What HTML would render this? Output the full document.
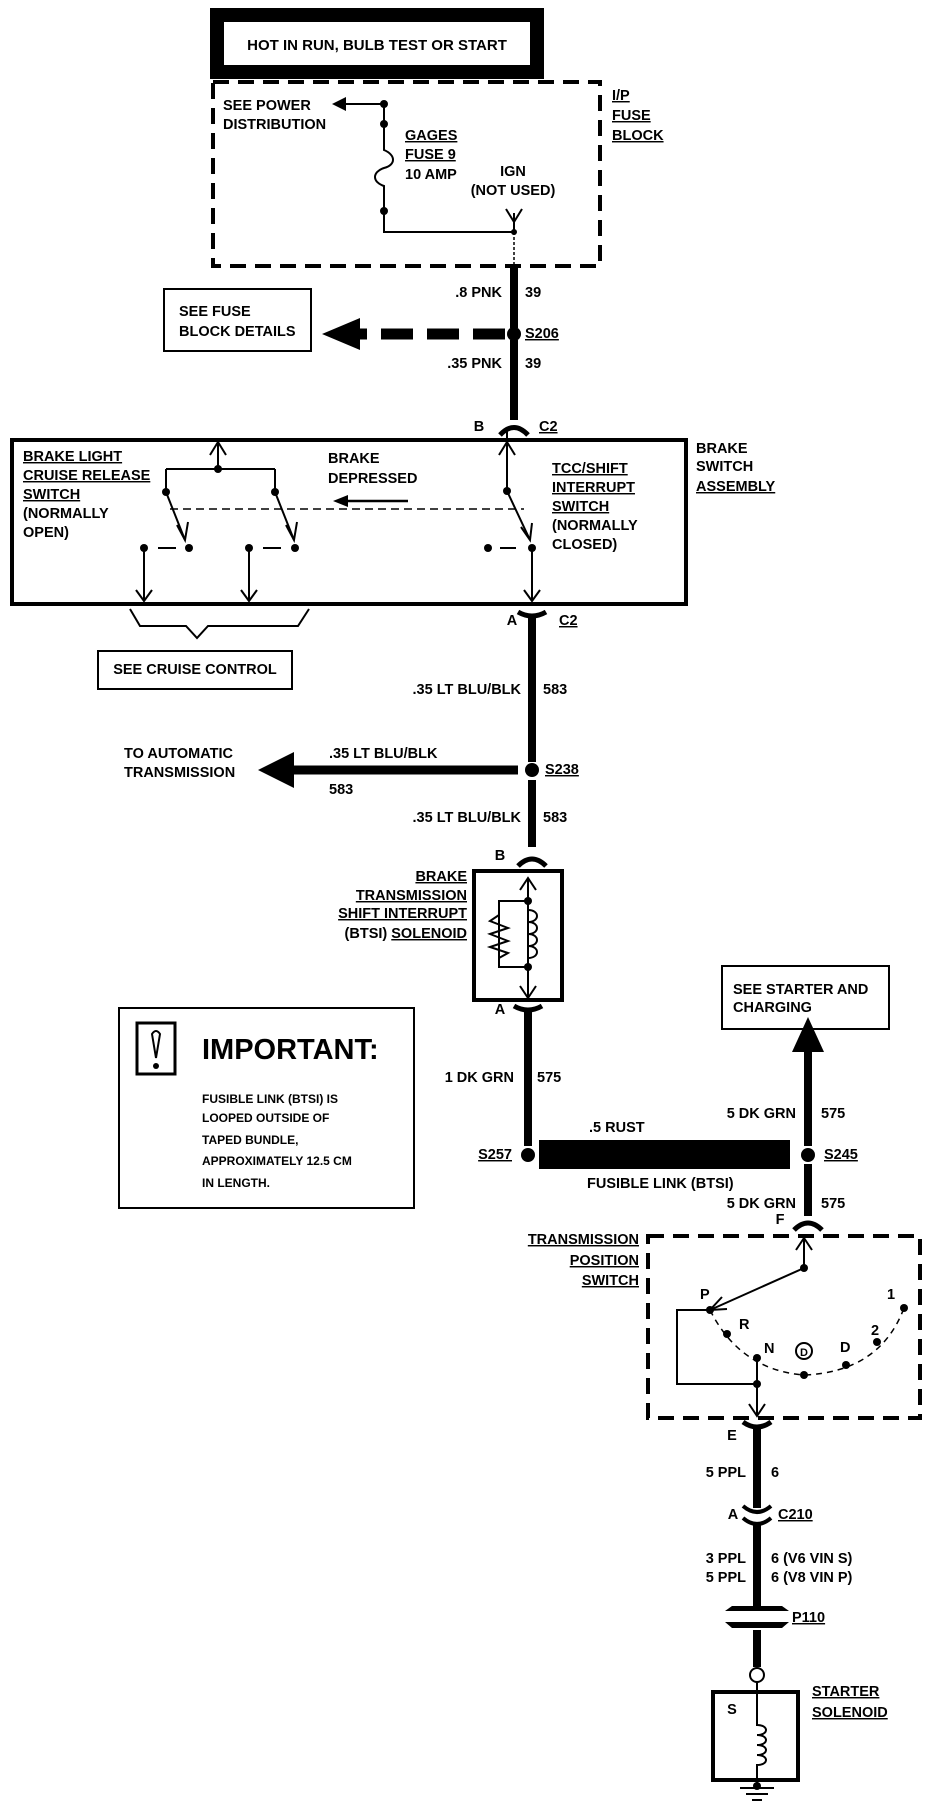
<!DOCTYPE html>
<html><head><meta charset="utf-8"><style>
html,body{margin:0;padding:0;background:#fff;}
svg{display:block;}
text{font-family:"Liberation Sans Narrow","Liberation Sans",sans-serif;font-weight:bold;font-size:14.5px;fill:#000;}
.u{text-decoration:underline;}
</style></head><body>
<svg width="928" height="1802" viewBox="0 0 928 1802" xmlns="http://www.w3.org/2000/svg">
<g fill="none" stroke="#000">
<rect x="217" y="15" width="320" height="57" stroke-width="14"/>
<rect x="213" y="82" width="387" height="184" stroke-width="4" stroke-dasharray="16,9"/>
<path d="M384 104 V124 M384 211 V232 H514" stroke-width="2"/>
<path d="M384 124 V150 C396 155 396 165 384 168 C372 172 372 182 384 186 V211" stroke-width="2"/>
<path d="M384 104 H342" stroke-width="2"/>
<path d="M514 232 V213 M514 222 L506 209 M514 222 L522 209" stroke-width="2"/>
<path d="M514 232 V266" stroke-width="1.5" stroke-dasharray="3,2"/>
<path d="M514 266 V328 M514 340 V420" stroke-width="8"/>
<path d="M500 435 Q514 420 528 435" stroke-width="5"/>
<path d="M505 334 H360" stroke-width="11" stroke-dasharray="32,14"/>
<rect x="164" y="289" width="147" height="62" stroke-width="2"/>
<rect x="12" y="440" width="674" height="164" stroke-width="4"/>
<path d="M218 442 V469 M166 469 H275 M166 469 V492 M275 469 V492" stroke-width="2"/>
<path d="M210 455 L218 442 L226 455 M218 442" stroke-width="2"/>
<path d="M166 492 L185 540 M275 492 L294 540" stroke-width="2"/>
<path d="M177 525 L185 540 L188 522 M286 525 L294 540 L297 522" stroke-width="2"/>
<path d="M170 509 H524" stroke-width="1.5" stroke-dasharray="8,5"/>
<path d="M158 548 H176 M263 548 H281" stroke-width="2"/>
<path d="M144 548 V601 M249 548 V601" stroke-width="2"/>
<path d="M136 590 L144 601 L152 590 M241 590 L249 601 L257 590" stroke-width="2"/>
<path d="M507 430 V491 M507 491 L530 540 M532 548 V601" stroke-width="2"/>
<path d="M499 455 L507 442 L515 455" stroke-width="2"/>
<path d="M521 527 L530 540 L532 523" stroke-width="2"/>
<path d="M500 548 H516" stroke-width="2"/>
<path d="M524 590 L532 601 L540 590" stroke-width="2"/>
<path d="M408 501 H345" stroke-width="2.5"/>
<path d="M130 609 L140 626 H186 L197 638 L208 626 H298 L309 609" stroke-width="2"/>
<rect x="98" y="651" width="194" height="38" stroke-width="2"/>
<path d="M518 612 Q532 620 546 612" stroke-width="5"/>
<path d="M532 616 V762 M532 780 V847" stroke-width="8"/>
<path d="M518 770 H290" stroke-width="9"/>
<path d="M518 866 Q532 852 546 866" stroke-width="5"/>
<rect x="474" y="871" width="88" height="129" stroke-width="4"/>
<path d="M528 878 V998" stroke-width="2"/>
<path d="M520 890 L528 878 L536 890 M520 986 L528 998 L536 986" stroke-width="2"/>
<path d="M528 901 H499 V967 H528" stroke-width="2"/>
<path d="M499 915 L490 921 L508 928 L490 934 L508 941 L490 947 L508 953 L499 958" stroke-width="2"/>
<path d="M528 910 C540 910 540 922 528 922 C540 922 540 934 528 934 C540 934 540 946 528 946 C540 946 540 958 528 958" stroke-width="2"/>
<path d="M514 1006 Q528 1014 542 1006" stroke-width="5"/>
<path d="M528 1010 V1146" stroke-width="8"/>
<rect x="539" y="1140" width="251" height="29" fill="#000" stroke="none"/>
<path d="M808 1146 V1048 M808 1164 V1216" stroke-width="8"/>
<rect x="722" y="966" width="167" height="63" stroke-width="2"/>
<path d="M794 1230 Q808 1216 822 1230" stroke-width="5"/>
<rect x="648" y="1236" width="272" height="182" stroke-width="4" stroke-dasharray="16,9"/>
<path d="M804 1236 V1268 L710 1310" stroke-width="2"/>
<path d="M796 1250 L804 1238 L812 1250 M722 1297 L710 1310 L727 1309" stroke-width="2"/>
<path d="M710 1310 Q740 1370 804 1375 Q880 1372 904 1308" stroke-width="1.5" stroke-dasharray="6,5"/>
<path d="M710 1310 H677 V1384 H757 M757 1358 V1416" stroke-width="2"/>
<path d="M749 1404 L757 1416 L765 1404" stroke-width="2"/>
<circle cx="804" cy="1351" r="8" stroke-width="2"/>
<path d="M743 1422 Q757 1432 771 1422" stroke-width="5"/>
<path d="M757 1428 V1508 M757 1522 V1606 M757 1630 V1667" stroke-width="8"/>
<path d="M743 1506 Q757 1518 771 1506 M743 1518 Q757 1530 771 1518" stroke-width="4"/>
<circle cx="757" cy="1675" r="7" stroke-width="2"/>
<rect x="713" y="1692" width="85" height="88" stroke-width="4"/>
<path d="M757 1682 V1725 C769 1725 769 1735 757 1735 C769 1735 769 1745 757 1745 C769 1745 769 1755 757 1755 C769 1755 769 1765 757 1765 V1786" stroke-width="2"/>
<path d="M740 1788 H774 M746 1794 H768 M752 1800 H762" stroke-width="2"/>
<rect x="119" y="1008" width="295" height="200" stroke-width="2"/>
<rect x="137" y="1023" width="38" height="51" stroke-width="3"/>
<path d="M152 1034 Q156 1028 160 1034 L156 1058 Z" stroke-width="2"/>
</g>
<g fill="#000">
<path d="M332 104 L346 97 L346 111 Z"/>
<path d="M322 334 L360 318 L360 350 Z"/>
<path d="M333 501 L348 495 L348 507 Z"/>
<path d="M258 770 L294 752 L294 788 Z"/>
<path d="M808 1017 L792 1052 L824 1052 Z"/>
<path d="M725 1611 L732 1606 H782 L789 1611 Z M725 1622 H789 L782 1628 H732 Z"/>
<circle cx="384" cy="104" r="4"/><circle cx="384" cy="124" r="4"/><circle cx="384" cy="211" r="4"/><circle cx="514" cy="232" r="3"/>
<circle cx="514" cy="334" r="7"/><circle cx="532" cy="770" r="7"/><circle cx="528" cy="1155" r="7"/><circle cx="808" cy="1155" r="7"/>
<circle cx="218" cy="469" r="4"/><circle cx="166" cy="492" r="4"/><circle cx="275" cy="492" r="4"/>
<circle cx="144" cy="548" r="4"/><circle cx="189" cy="548" r="4"/><circle cx="249" cy="548" r="4"/><circle cx="295" cy="548" r="4"/>
<circle cx="507" cy="491" r="4"/><circle cx="488" cy="548" r="4"/><circle cx="532" cy="548" r="4"/>
<circle cx="528" cy="901" r="4"/><circle cx="528" cy="967" r="4"/>
<circle cx="804" cy="1268" r="4"/><circle cx="710" cy="1310" r="4"/><circle cx="727" cy="1334" r="4"/><circle cx="757" cy="1358" r="4"/>
<circle cx="804" cy="1375" r="4"/><circle cx="846" cy="1365" r="4"/><circle cx="877" cy="1342" r="4"/><circle cx="904" cy="1308" r="4"/>
<circle cx="757" cy="1384" r="4"/><circle cx="757" cy="1786" r="4"/><circle cx="156" cy="1066" r="3"/>
</g>
<g>
<text x="377" y="50" text-anchor="middle" style="font-size:15px">HOT IN RUN, BULB TEST OR START</text>
<text x="223" y="110">SEE POWER</text><text x="223" y="129">DISTRIBUTION</text>
<text x="405" y="140" class="u">GAGES</text><text x="405" y="159" class="u">FUSE 9</text><text x="405" y="179">10 AMP</text>
<text x="513" y="176" text-anchor="middle">IGN</text><text x="513" y="195" text-anchor="middle">(NOT USED)</text>
<text x="612" y="100" class="u">I/P</text><text x="612" y="120" class="u">FUSE</text><text x="612" y="140" class="u">BLOCK</text>
<text x="502" y="297" text-anchor="end">.8 PNK</text><text x="525" y="297">39</text>
<text x="179" y="316">SEE FUSE</text><text x="179" y="336">BLOCK DETAILS</text>
<text x="525" y="338" class="u">S206</text>
<text x="502" y="368" text-anchor="end">.35 PNK</text><text x="525" y="368">39</text>
<text x="479" y="431" text-anchor="middle">B</text><text x="539" y="431" class="u">C2</text>
<text x="23" y="461" class="u">BRAKE LIGHT</text><text x="23" y="480" class="u">CRUISE RELEASE</text><text x="23" y="499" class="u">SWITCH</text><text x="23" y="518">(NORMALLY</text><text x="23" y="537">OPEN)</text>
<text x="328" y="463">BRAKE</text><text x="328" y="483">DEPRESSED</text>
<text x="552" y="473" class="u">TCC/SHIFT</text><text x="552" y="492" class="u">INTERRUPT</text><text x="552" y="511" class="u">SWITCH</text><text x="552" y="530">(NORMALLY</text><text x="552" y="549">CLOSED)</text>
<text x="696" y="453">BRAKE</text><text x="696" y="471">SWITCH</text><text x="696" y="491" class="u">ASSEMBLY</text>
<text x="512" y="625" text-anchor="middle">A</text><text x="559" y="625" class="u">C2</text>
<text x="195" y="674" text-anchor="middle">SEE CRUISE CONTROL</text>
<text x="521" y="694" text-anchor="end">.35 LT BLU/BLK</text><text x="543" y="694">583</text>
<text x="124" y="758">TO AUTOMATIC</text><text x="124" y="777">TRANSMISSION</text>
<text x="329" y="758">.35 LT BLU/BLK</text><text x="329" y="794">583</text>
<text x="545" y="774" class="u">S238</text>
<text x="521" y="822" text-anchor="end">.35 LT BLU/BLK</text><text x="543" y="822">583</text>
<text x="500" y="860" text-anchor="middle">B</text>
<text x="467" y="881" text-anchor="end" class="u">BRAKE</text><text x="467" y="900" text-anchor="end" class="u">TRANSMISSION</text><text x="467" y="918" text-anchor="end" class="u">SHIFT INTERRUPT</text><text x="467" y="938" text-anchor="end">(BTSI) <tspan class="u">SOLENOID</tspan></text>
<text x="500" y="1014" text-anchor="middle">A</text>
<text x="733" y="994">SEE STARTER AND</text><text x="733" y="1012">CHARGING</text>
<text x="202" y="1059" style="font-size:29px">IMPORTANT:</text>
<text x="202" y="1103" style="font-size:12px">FUSIBLE LINK (BTSI) IS</text><text x="202" y="1122" style="font-size:12px">LOOPED OUTSIDE OF</text><text x="202" y="1144" style="font-size:12px">TAPED BUNDLE,</text><text x="202" y="1165" style="font-size:12px">APPROXIMATELY 12.5 CM</text><text x="202" y="1187" style="font-size:12px">IN LENGTH.</text>
<text x="514" y="1082" text-anchor="end">1 DK GRN</text><text x="537" y="1082">575</text>
<text x="796" y="1118" text-anchor="end">5 DK GRN</text><text x="821" y="1118">575</text>
<text x="589" y="1132">.5 RUST</text>
<text x="512" y="1159" text-anchor="end" class="u">S257</text>
<text x="824" y="1159" class="u">S245</text>
<text x="587" y="1188">FUSIBLE LINK (BTSI)</text>
<text x="796" y="1208" text-anchor="end">5 DK GRN</text><text x="821" y="1208">575</text>
<text x="780" y="1224" text-anchor="middle">F</text>
<text x="639" y="1244" text-anchor="end" class="u">TRANSMISSION</text><text x="639" y="1265" text-anchor="end" class="u">POSITION</text><text x="639" y="1285" text-anchor="end" class="u">SWITCH</text>
<text x="700" y="1299">P</text><text x="739" y="1329">R</text><text x="764" y="1353">N</text><text x="840" y="1352">D</text><text x="871" y="1335">2</text><text x="887" y="1299">1</text>
<text x="804" y="1356" text-anchor="middle" style="font-size:11px">D</text>
<text x="732" y="1440" text-anchor="middle">E</text>
<text x="746" y="1477" text-anchor="end">5 PPL</text><text x="771" y="1477">6</text>
<text x="733" y="1519" text-anchor="middle">A</text><text x="778" y="1519" class="u">C210</text>
<text x="746" y="1563" text-anchor="end">3 PPL</text><text x="771" y="1563">6  (V6  VIN S)</text>
<text x="746" y="1582" text-anchor="end">5 PPL</text><text x="771" y="1582">6  (V8  VIN P)</text>
<text x="792" y="1622" class="u">P110</text>
<text x="732" y="1714" text-anchor="middle">S</text>
<text x="812" y="1696" class="u">STARTER</text><text x="812" y="1717" class="u">SOLENOID</text>
</g>
</svg>
</body></html>
